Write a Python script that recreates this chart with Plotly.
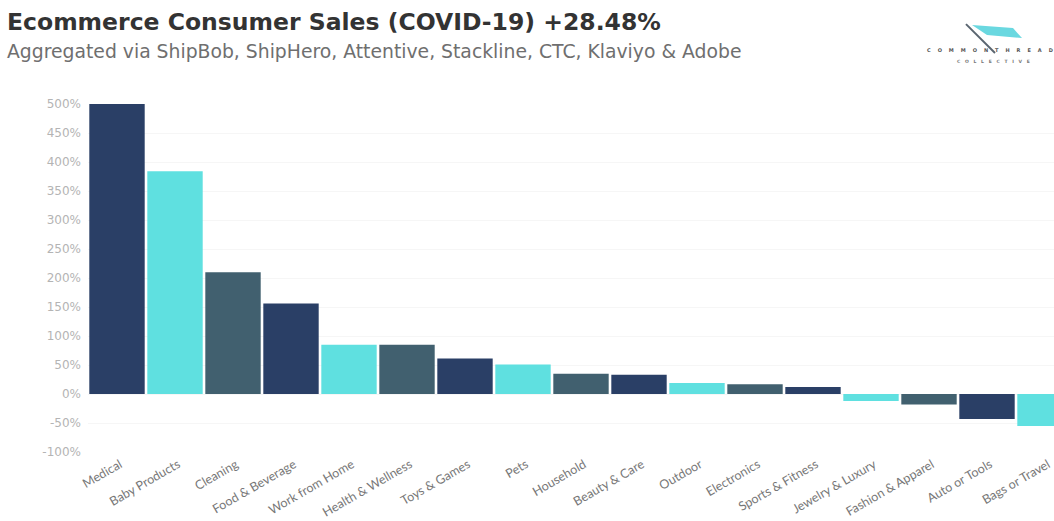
import plotly.graph_objects as go

categories = ["Medical", "Baby Products", "Cleaning", "Food & Beverage", "Work from Home",
              "Health & Wellness", "Toys & Games", "Pets", "Household", "Beauty & Care",
              "Outdoor", "Electronics", "Sports & Fitness", "Jewelry & Luxury",
              "Fashion & Apparel", "Auto or Tools", "Bags or Travel"]
growth_pct = [500, 384, 210, 156, 85, 85, 61, 51, 35, 33, 19, 17, 12, -12, -18, -43, -55]
palette = ["#2a3f66", "#5fe0e0", "#41606f"]
y_ticks = [-100, -50, 0, 50, 100, 150, 200, 250, 300, 350, 400, 450, 500]
title_text = "Ecommerce Consumer Sales (COVID-19) +28.48%"
subtitle_text = "Aggregated via ShipBob, ShipHero, Attentive, Stackline, CTC, Klaviyo & Adobe"

W, H = 1054, 521
L, T, B = 88, 104, 68.5
NBSP = "\u00a0"


def px(x):
    return (x - L) / (W - L)


def py(y):
    return (H - B - y) / (H - B - T)


def spaced(word, gap):
    return (NBSP * gap).join(word)


bar_colors = [palette[i % 3] for i in range(len(categories))]

fig = go.Figure(go.Bar(x=categories, y=growth_pct, marker=dict(color=bar_colors, line_width=0)))

fig.update_layout(
    width=W, height=H, autosize=False,
    margin=dict(l=L, r=0, t=T, b=B, pad=0),
    paper_bgcolor="white", plot_bgcolor="white",
    bargap=0.045, showlegend=False,
    xaxis=dict(range=[-0.5, (W - L) / 58 - 0.5], tickangle=-30, showgrid=False, zeroline=False,
               showline=False, ticks="", automargin=False, ticklabelshift=3, ticklabelstandoff=2,
               tickfont=dict(family="Lato", size=12.5, color="#777777")),
    yaxis=dict(range=[-100, 500], tickvals=y_ticks, ticktext=[f"{v}%" for v in y_ticks],
               gridcolor="#f6f6f6", gridwidth=1, zeroline=False, showline=False, ticks="",
               automargin=False, ticklabelstandoff=6,
               tickfont=dict(family="DejaVu Sans", size=12, color="#b4b4b4")),
    shapes=[
        # flag cloth
        dict(type="path", xref="paper", yref="paper", line_width=0, fillcolor="#6ad8e0",
             path=f"M {px(972)} {py(25)} L {px(1013)} {py(28)} L {px(1022)} {py(38)} "
                  f"L {px(987)} {py(35)} Z"),
        # flag pole
        dict(type="line", xref="paper", yref="paper", line=dict(color="#5a6570", width=2),
             x0=px(966), y0=py(24), x1=px(995), y1=py(53)),
    ],
    annotations=[
        dict(text=f"<b>{title_text}</b>", xref="paper", yref="paper", x=px(5), y=py(22),
             xanchor="left", yanchor="middle", showarrow=False,
             font=dict(family="DejaVu Sans", size=23.5, color="#333333")),
        dict(text=subtitle_text, xref="paper", yref="paper", x=px(5), y=py(51),
             xanchor="left", yanchor="middle", showarrow=False,
             font=dict(family="DejaVu Sans", size=18.8, color="#6f6f6f")),
        dict(text=f"<b>{spaced('COMMON', 4)}{NBSP * 4}{spaced('THREAD', 4)}</b>",
             xref="paper", yref="paper", x=px(925), y=py(50), xanchor="left", yanchor="middle",
             showarrow=False, font=dict(family="DejaVu Sans", size=5, color="#555555")),
        dict(text=f"<b>{spaced('COLLECTIVE', 3)}</b>", xref="paper", yref="paper", x=px(993),
             y=py(61), xanchor="center", yanchor="middle", showarrow=False,
             font=dict(family="DejaVu Sans", size=4.5, color="#777777")),
    ],
)

fig.write_html("out.html")
